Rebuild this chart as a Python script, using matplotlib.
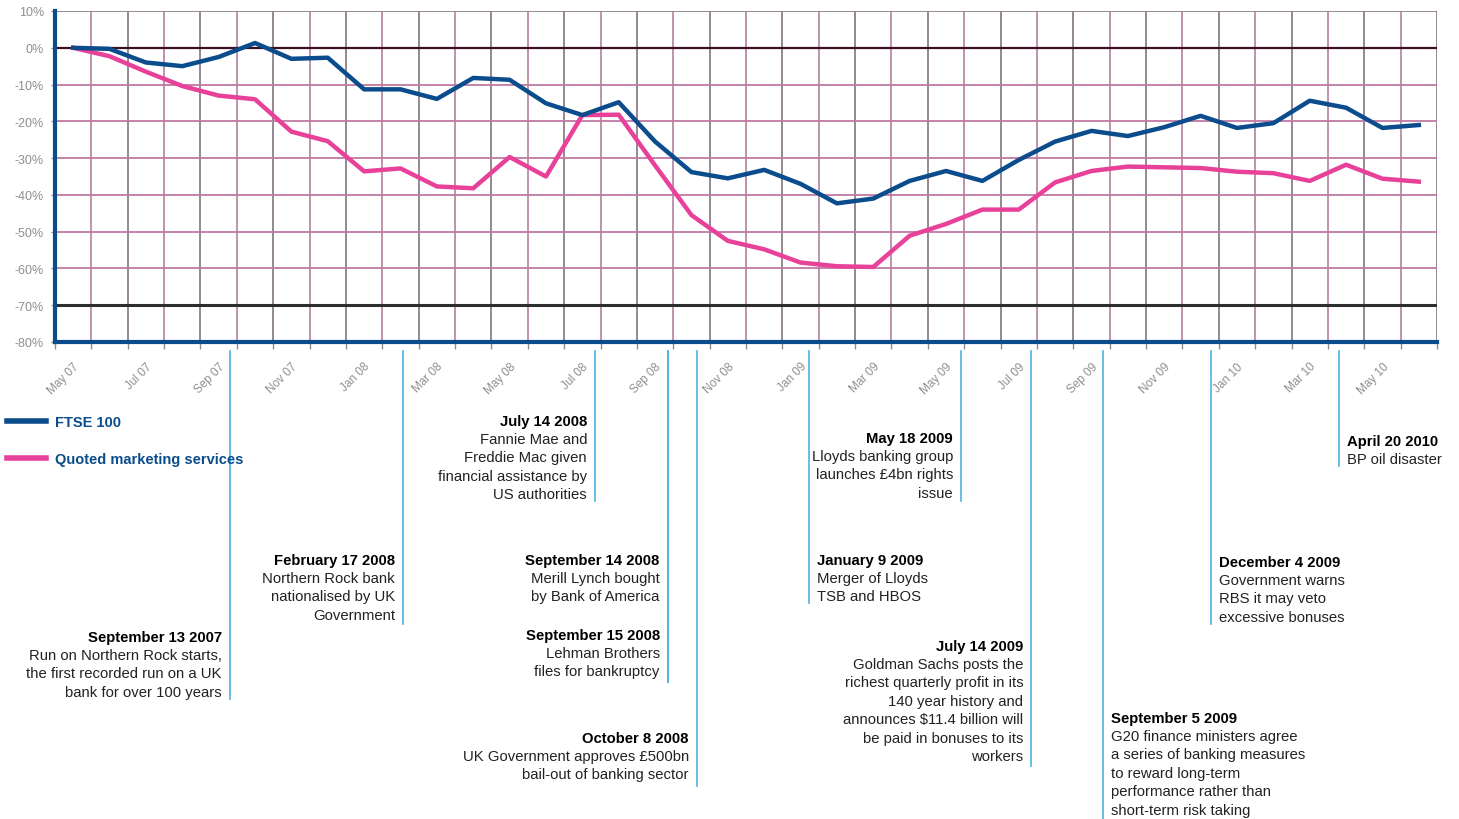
import matplotlib
matplotlib.use("Agg")
import matplotlib.pyplot as plt
import matplotlib.transforms as mtransforms

plt.rcParams['font.family'] = ['Liberation Sans', 'DejaVu Sans']

# monthly points, May 07 .. Jun 10
months = ['May 07', 'Jun 07', 'Jul 07', 'Aug 07', 'Sep 07', 'Oct 07', 'Nov 07', 'Dec 07',
          'Jan 08', 'Feb 08', 'Mar 08', 'Apr 08', 'May 08', 'Jun 08', 'Jul 08', 'Aug 08',
          'Sep 08', 'Oct 08', 'Nov 08', 'Dec 08', 'Jan 09', 'Feb 09', 'Mar 09', 'Apr 09',
          'May 09', 'Jun 09', 'Jul 09', 'Aug 09', 'Sep 09', 'Oct 09', 'Nov 09', 'Dec 09',
          'Jan 10', 'Feb 10', 'Mar 10', 'Apr 10', 'May 10', 'Jun 10']

ftse = [0, -0.3, -4, -5, -2.5, 1.3, -3, -2.7, -11.3, -11.3, -13.9, -8.2, -8.7, -15.1,
        -18.3, -14.8, -25.5, -33.8, -35.5, -33.2, -37, -42.3, -41, -36.2, -33.5, -36.2,
        -30.5, -25.5, -22.6, -24, -21.6, -18.5, -21.8, -20.5, -14.4, -16.3, -21.8, -21]

qms = [0, -2.3, -6.5, -10.4, -13, -14, -22.8, -25.4, -33.6, -32.8, -37.7, -38.2, -29.7,
       -35, -18.3, -18.2, -32, -45.5, -52.5, -54.8, -58.4, -59.4, -59.6, -51.1, -47.9,
       -44, -44, -36.6, -33.5, -32.3, -32.5, -32.7, -33.7, -34.1, -36.2, -31.8, -35.6, -36.4]

yticks = [10, 0, -10, -20, -30, -40, -50, -60, -70, -80]

# timeline events
event_titles = ['September 13 2007', 'February 17 2008', 'July 14 2008', 'September 14 2008',
                'September 15 2008', 'October 8 2008', 'January 9 2009', 'May 18 2009',
                'July 14 2009', 'September 5 2009', 'December 4 2009', 'April 20 2010']
event_texts = ['Run on Northern Rock starts,\nthe first recorded run on a UK\nbank for over 100 years',
               'Northern Rock bank\nnationalised by UK\nGovernment',
               'Fannie Mae and\nFreddie Mac given\nfinancial assistance by\nUS authorities',
               'Merill Lynch bought\nby Bank of America',
               'Lehman Brothers\nfiles for bankruptcy',
               'UK Government approves £500bn\nbail-out of banking sector',
               'Merger of Lloyds\nTSB and HBOS',
               'Lloyds banking group\nlaunches £4bn rights\nissue',
               'Goldman Sachs posts the\nrichest quarterly profit in its\n140 year history and\nannounces $11.4 billion will\nbe paid in bonuses to its\nworkers',
               'G20 finance ministers agree\na series of banking measures\nto reward long-term\nperformance rather than\nshort-term risk taking',
               'Government warns\nRBS it may veto\nexcessive bonuses',
               'BP oil disaster']
event_x = [4.31, 9.07, 14.35, 16.35, 16.35, 17.15, 20.23, 24.41, 26.34, 28.32, 31.28, 34.8]

# layout (pixels from top): line bottom, title centre, which side of the line
event_bottom = [700, 625, 502, 683, 683, 787, 604, 502, 767, 820, 625, 467]
event_title_y = [638, 561, 422, 561, 636, 739, 561, 439, 647, 719, 563, 442]
event_side = ['L', 'L', 'L', 'L', 'L', 'L', 'R', 'L', 'L', 'R', 'R', 'R']

W, H = 1459, 820
navy = '#0b4c8c'
pink = '#e8419a'
grey = '#8f8f8f'

fig = plt.figure(figsize=(W / 100, H / 100), dpi=100)
ax = fig.add_axes([55 / W, 1 - 343 / H, 1382 / W, 331 / H])

n = len(months)
x = list(range(n))
ax.set_xlim(-0.5, n - 0.5)
ax.set_ylim(-80, 10)

# grid
for k in range(n + 1):
    c = '#8d7f8a' if k % 2 == 0 else '#b98aa8'
    ax.axvline(k - 0.5, color=c, lw=1.3, zorder=1)
for v in yticks:
    if v == 0:
        ax.axhline(v, color='#3b0f22', lw=1.6, zorder=2)
    elif v == -70:
        ax.axhline(v, color='#2e2e2e', lw=2.2, zorder=2)
    elif v == 10:
        ax.axhline(v, color='#8d7f8a', lw=1.3, zorder=1)
    else:
        ax.axhline(v, color='#c07aa2', lw=1.3, zorder=1)

l1, = ax.plot(x, ftse, color=navy, lw=3.2, zorder=4, label='FTSE 100')
l2, = ax.plot(x, qms, color=pink, lw=3.2, zorder=3, label='Quoted marketing services')

for s in ['top', 'right']:
    ax.spines[s].set_visible(False)
for s in ['left', 'bottom']:
    ax.spines[s].set_color(navy)
    ax.spines[s].set_linewidth(3)
    ax.spines[s].set_zorder(5)

ax.set_yticks(yticks)
ax.set_yticklabels([f'{v}%' for v in yticks])
ax.tick_params(axis='y', colors=grey, labelsize=9, length=3, width=1, pad=5)

ax.set_xticks([k - 0.5 for k in range(n + 1)])
ax.set_xticklabels([])
ax.tick_params(axis='x', which='major', length=5, width=1, color=grey)
ax.set_xticks(x[::2], minor=True)
ax.set_xticklabels(months[::2], minor=True, rotation=45, ha='right', rotation_mode='anchor')
ax.tick_params(axis='x', which='minor', length=0, labelsize=8.5, labelcolor=grey, pad=13)

# legend
leg = ax.legend(handles=[l1, l2], loc='upper left', bbox_to_anchor=(7 / W, 1 - 416 / H),
                bbox_transform=fig.transFigure, frameon=False, borderpad=0, borderaxespad=0,
                handlelength=2.7, handletextpad=0.6, labelspacing=1.6,
                prop={'weight': 'bold', 'size': 10.5})
for t in leg.get_texts():
    t.set_color(navy)
for h in leg.get_lines():
    h.set_linewidth(4)

# event lines and notes
trans = mtransforms.blended_transform_factory(ax.transData, fig.transFigure)
for i in range(len(event_titles)):
    ax.plot([event_x[i], event_x[i]], [1 - 352 / H, 1 - event_bottom[i] / H],
            transform=trans, color='#4cb4e0', lw=1.2, clip_on=False)
    dx = -8 if event_side[i] == 'L' else 8
    ha = 'right' if event_side[i] == 'L' else 'left'
    tt = mtransforms.offset_copy(trans, fig=fig, x=dx, y=0, units='dots')
    ty = 1 - event_title_y[i] / H
    ax.text(event_x[i], ty, event_titles[i], transform=tt, ha=ha, va='center',
            fontsize=10.7, fontweight='bold', color='black', clip_on=False)
    ax.text(event_x[i], ty - 11 / H, event_texts[i], transform=tt, ha=ha, va='top',
            fontsize=10.7, color='#222222', linespacing=1.4, multialignment=ha, clip_on=False)

fig.savefig('out.png', dpi=100)
